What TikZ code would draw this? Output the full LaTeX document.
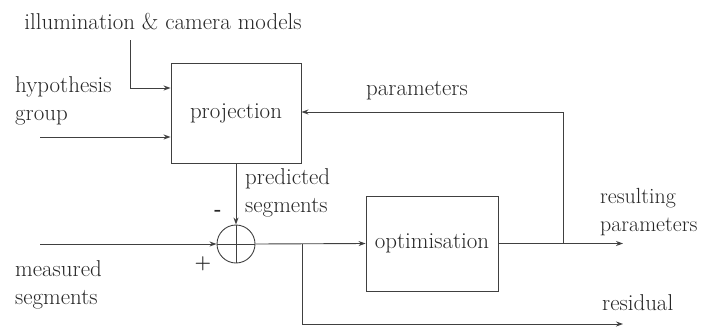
\documentclass[tikz,border=0pt]{standalone}
\usetikzlibrary{arrows.meta}
\begin{document}
\begin{tikzpicture}[x=1bp,y=-1bp,
  every node/.style={text=black!85, font=\fontsize{23}{28}\selectfont},
  block/.style={draw=black!75, line width=0.9pt, inner sep=0pt},
  label/.style={inner sep=0pt, align=left},
  sign/.style={inner sep=0pt, font=\fontsize{19}{19}\selectfont\bfseries},
  flow/.style={draw=black!75, line width=0.9pt, -{Stealth[length=7bp,width=5bp]}},
  wire/.style={draw=black!75, line width=0.9pt}]
\useasboundingbox (0,0) rectangle (703,327);

% blocks
\node[block, minimum width=130bp, minimum height=100bp] (proj) at (236,113) {projection};
\node[block, minimum width=132bp, minimum height=95bp] (opt) at (432,243.5) {optimisation};
\node[block, circle, minimum size=38bp] (sum) at (236,244) {};
\draw[wire] (sum.north) -- (sum.south);
\draw[wire] (sum.west) -- (sum.east);

% labels
\node[label, anchor=center] (illum) at (163,22) {illumination \& camera models};
\node[label, anchor=west] (hyp) at (15,101) {hypothesis\\group};
\node[label, anchor=center] (par) at (417,91) {parameters};
\node[label, anchor=west] (pred) at (245,193) {predicted\\segments};
\node[label, anchor=west] (meas) at (15,285) {measured\\segments};
\node[label, anchor=west, font=\fontsize{22}{28}\selectfont] (res) at (600,212) {resulting\\parameters};
\node[label, anchor=west] (resid) at (602,303) {residual};
\node[sign] (minus) at (218,213) {-};
\node[sign] (plus) at (203,264) {+};

% free ends of the connectors
\coordinate (illumstart) at (130,40);
\coordinate (hypstart) at (40,137);
\coordinate (measstart) at (40,244);
\coordinate (split) at (563,243.5);
\coordinate (resend) at (623,243.5);
\coordinate (branch) at (302,244);
\coordinate (residend) at (623,324);

% connectors
\draw[flow] (illumstart) |- (proj.west |- 0,88);
\draw[flow] (hypstart) -- (proj.west |- hypstart);
\draw[flow] (split) |- (proj.east |- 0,112);
\draw[flow] (proj.south) -- (sum.north);
\draw[flow] (measstart) -- (sum.west);
\draw[flow] (sum.east) -- (opt.west);
\draw[flow] (opt.east) -- (resend);
\draw[flow] (branch) |- (residend);
\end{tikzpicture}
\end{document}
